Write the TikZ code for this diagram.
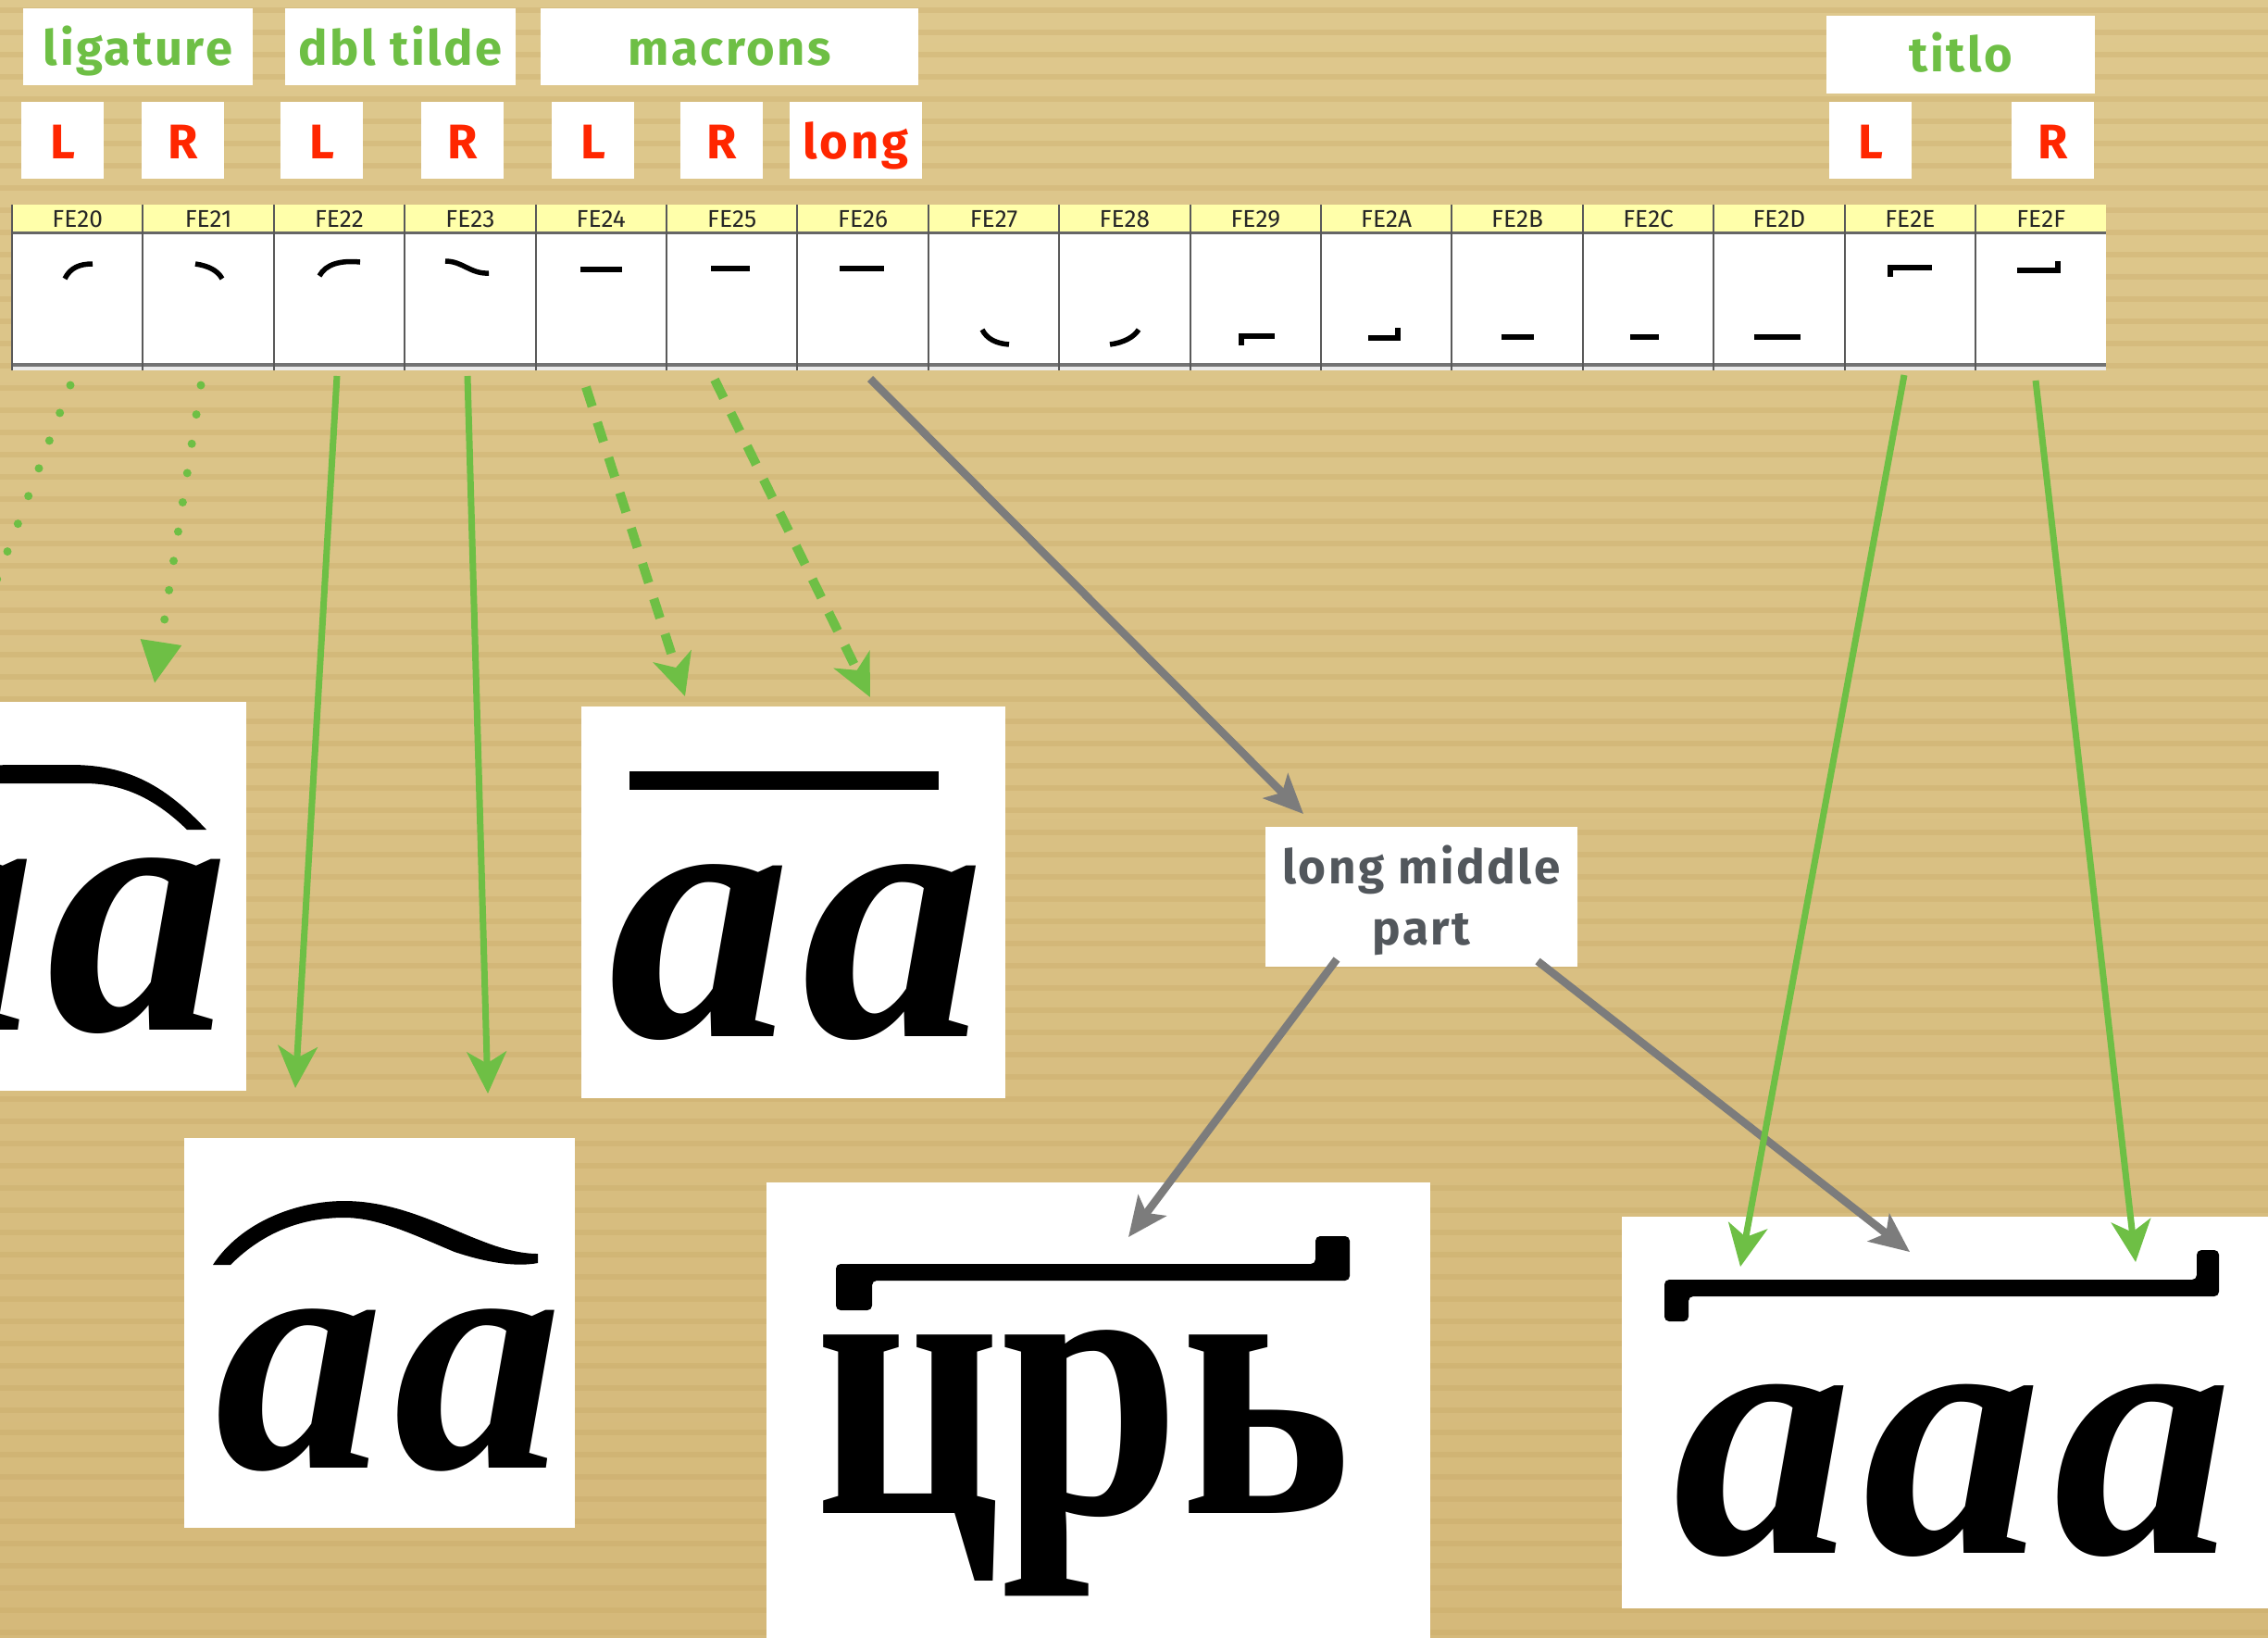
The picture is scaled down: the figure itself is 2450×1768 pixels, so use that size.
\documentclass[tikz,border=0pt]{standalone}
\usepackage{fontspec}
\setmainfont{Fira Sans}
\newfontfamily\lblfont{Fira Sans}[LetterSpace=5]
\newfontfamily\hdfont{Fira Sans}
\newfontfamily\slav{Liberation Serif}[LetterSpace=3]
\newfontfamily\slavc{Liberation Serif}
\usetikzlibrary{arrows.meta}
\definecolor{bgtop}{HTML}{DEC88D}
\definecolor{bgbot}{HTML}{D5B97A}
\definecolor{stripe}{HTML}{C4A460}
\definecolor{grn}{HTML}{6EBF45}
\definecolor{rd}{HTML}{FF2600}
\definecolor{gry}{HTML}{7C7C7C}
\definecolor{dgry}{HTML}{52575C}
\definecolor{hdr}{HTML}{FFFFAA}
\tikzset{
  bx/.style 2 args={fill=white, draw=none, inner sep=0pt, minimum width={#1*0.4pt}, minimum height={#2*0.4pt}},
  ttl/.style={text=grn, font=\lblfont\bfseries\fontsize{21pt}{21pt}\selectfont, inner sep=0pt, anchor=base},
  lr/.style={text=rd, font=\lblfont\bfseries\fontsize{21pt}{21pt}\selectfont, inner sep=0pt, anchor=base},
  lmp/.style={text=dgry, font=\lblfont\bfseries\fontsize{20.5pt}{26.4pt}\selectfont, inner sep=0pt, align=center},
  hd/.style={text=black!85, font=\hdfont\fontsize{10.5pt}{10.5pt}\selectfont, inner sep=0pt, anchor=base},
  mk/.style={draw=black, line width=2.2pt},
  slavtxt/.style={font=\slav\bfseries\itshape\fontsize{158pt}{158pt}\selectfont, inner sep=0pt, anchor=base},
  slavup/.style={font=\slavc\bfseries\fontsize{168pt}{168pt}\selectfont, inner sep=0pt, anchor=base},
  gsolid/.style={draw=grn, line width=2.8pt, -{Stealth[length=18pt,width=17pt,inset=5pt]}},
  gdot/.style={draw=grn, line width=3.6pt, line cap=round, dash pattern=on 0pt off 12.8pt, -{Triangle[length=18pt,width=17pt]}},
  gdash/.style={draw=grn, line width=4pt, dash pattern=on 8.8pt off 7.2pt, -{Stealth[length=18pt,width=17pt,inset=5pt]}},
  garr/.style={draw=gry, line width=3.4pt, -{Stealth[length=17pt,width=15pt,inset=4pt]}},
}
\begin{document}
\begin{tikzpicture}[x=0.4pt,y=-0.4pt]
\useasboundingbox (0,0) rectangle (2450,1768);
\clip (0,0) rectangle (2450,1768);
% background
\shade[top color=bgtop, bottom color=bgbot] (0,0) rectangle (2450,1768);
\foreach \i in {0,...,73}
  \fill[stripe, opacity=0.28] (0,{\i*24+8}) rectangle (2450,{\i*24+14});

% title boxes
\node[bx={248}{83}] (bligature) at (149,50.5) {};
\node[ttl] (tligature) at (149,70) {ligature};
\node[bx={249}{83}] (bdbl) at (432.5,50.5) {};
\node[ttl] (tdbl) at (432.5,70) {dbl tilde};
\node[bx={408}{83}] (bmac) at (788,50.5) {};
\node[ttl] (tmac) at (788,70) {macrons};
\node[bx={290}{84}] (btitlo) at (2118,59) {};
\node[ttl] (ttitlo) at (2118,77) {titlo};

% L / R boxes
\foreach \n/\x/\w/\t in {a/67.5/89/L, b/197.5/89/R, c/347.5/89/L, d/499.5/89/R, e/640.5/89/L, f/779.5/89/R, g/924.5/143/long, h/2020.5/89/L, i/2217.5/89/R}{
  \node[bx={\w}{83}] (lb\n) at (\x,151.5) {};
  \node[lr] (lt\n) at (\x,171) {\t};
}

% table
\fill[hdr] (13,221) rectangle (2275,250);
\fill[white] (13,250) rectangle (2275,393);
\fill[black!8] (13,393) rectangle (2275,400);
\draw[line width=1.3pt, black!60] (13,251.5) -- (2275,251.5);
\draw[line width=1.3pt, black!55] (13,394) -- (2275,394);
\foreach \k in {0,...,15}
  \draw[line width=0.8pt, black!65] ({13+\k*141.4},221) -- ({13+\k*141.4},400);
\foreach \t [count=\k from 0] in {FE20,FE21,FE22,FE23,FE24,FE25,FE26,FE27,FE28,FE29,FE2A,FE2B,FE2C,FE2D,FE2E,FE2F}
  \node[hd] (h\k) at ({13+(\k+0.5)*141.4},245) {\t};

% marks in the cells
\draw[mk] (70,301) .. controls (76,289) and (86,285) .. (100,285);
\draw[mk] (211,285) .. controls (225,287) and (235,292) .. (240,301);
\draw[mk] (345,298) .. controls (352,285) and (368,281) .. (389,283);
\draw[mk] (481,282) .. controls (500,282) and (508,296) .. (528,295);
\draw[mk] (627,291) -- (672,291);
\draw[mk] (768,290) -- (810,290);
\draw[mk] (907,290) -- (955,290);
\draw[mk] (1061,356) .. controls (1066,366) and (1076,371) .. (1090,372);
\draw[mk] (1199,372) .. controls (1214,370) and (1225,364) .. (1230,356);
\draw[mk] (1341,373) -- (1341,363) -- (1377,363);
\draw[mk] (1478,365) -- (1510,365) -- (1510,354);
\draw[mk] (1622,364) -- (1657,364);
\draw[mk] (1761,364) -- (1792,364);
\draw[mk] (1895,364) -- (1945,364);
\draw[mk] (2042,299) -- (2042,289) -- (2087,289);
\draw[mk] (2179,292) -- (2223,292) -- (2223,282);

% image boxes
\node[bx={466}{420}] (ligimg) at (33,968) {};
\node[slavtxt] (ligtxt) at (45,1112) {аа};
\fill[black] (223,896) .. controls (180,850) and (140,826) .. (77,826) -- (13,826)
  .. controls (-50,826) and (-90,850) .. (-133,896) -- (-112,896)
  .. controls (-75,860) and (-40,846) .. (0,846) -- (91,846)
  .. controls (130,846) and (165,860) .. (202,896) -- cycle;

\node[bx={458}{423}] (macimg) at (857,974.5) {};
\node[slavtxt] (mactxt) at (861,1119) {аа};
\fill[black] (680,833) rectangle (1014,853);

\node[bx={422}{421}] (tilimg) at (410,1439.5) {};
\node[slavtxt, font=\slav\bfseries\itshape\fontsize{146pt}{146pt}\selectfont] (tiltxt) at (420,1585) {аа};
\fill[black] (230,1366) .. controls (260,1320) and (320,1297) .. (372,1297)
  .. controls (430,1297) and (480,1325) .. (520,1340)
  .. controls (545,1350) and (565,1354) .. (581,1354) -- (581,1364)
  .. controls (560,1368) and (530,1365) .. (491,1352)
  .. controls (450,1335) and (410,1315) .. (372,1315)
  .. controls (320,1315) and (280,1335) .. (249,1366) -- cycle;

\node[bx={717}{523}] (crbimg) at (1186.5,1538.5) {};
\node[slavup] (crbtxt) at (1170,1634) {\scalebox{0.83}[1]{црь}};
\fill[black, rounded corners=2pt] (903,1415) -- (903,1365) -- (1421,1365) -- (1421,1335)
  -- (1458,1335) -- (1458,1383) -- (942,1383) -- (942,1415) -- cycle;

\node[bx={708}{423}] (aaaimg) at (2106,1525.5) {};
\node[slavtxt, font=\slav\bfseries\itshape\fontsize{155pt}{155pt}\selectfont] (aaatxt) at (2110,1677) {ааа};
\fill[black, rounded corners=2pt] (1798,1427) -- (1798,1382) -- (2373,1382) -- (2373,1350)
  -- (2397,1350) -- (2397,1400) -- (1824,1400) -- (1824,1427) -- cycle;

% long middle part
\node[bx={337}{151}] (lmpbox) at (1535.5,968.5) {};
\node[lmp] (lmptxt) at (1535.5,972) {long middle\\part};

% connector end points
\coordinate (s20) at (76,416);   \coordinate (e20) at (-58,770);
\coordinate (s21) at (217,416);  \coordinate (e21) at (167,738);
\coordinate (s22) at (364,406);  \coordinate (e22) at (319,1175);
\coordinate (s23) at (505,406);  \coordinate (e23) at (527,1181);
\coordinate (s24) at (633,418);  \coordinate (e24) at (740,752);
\coordinate (s25) at (772,410);  \coordinate (e25) at (940,753);
\coordinate (s26) at (940,409);  \coordinate (e26) at (1408,879);
\coordinate (sl) at (1444,1036); \coordinate (el) at (1219,1336);
\coordinate (sr) at (1661,1038); \coordinate (er) at (2063,1352);
\coordinate (s2e) at (2057,405); \coordinate (e2e) at (1880,1368);
\coordinate (s2f) at (2199,411); \coordinate (e2f) at (2307,1363);

\draw[gdot] (s20) -- (e20);
\draw[gdot] (s21) -- (e21);
\draw[gsolid] (s22) -- (e22);
\draw[gsolid] (s23) -- (e23);
\draw[gdash] (s24) -- (e24);
\draw[gdash] (s25) -- (e25);
\draw[garr] (s26) -- (e26);
\draw[garr] (sl) -- (el);
\draw[garr] (sr) -- (er);
\draw[gsolid] (s2e) -- (e2e);
\draw[gsolid] (s2f) -- (e2f);
\end{tikzpicture}
\end{document}
